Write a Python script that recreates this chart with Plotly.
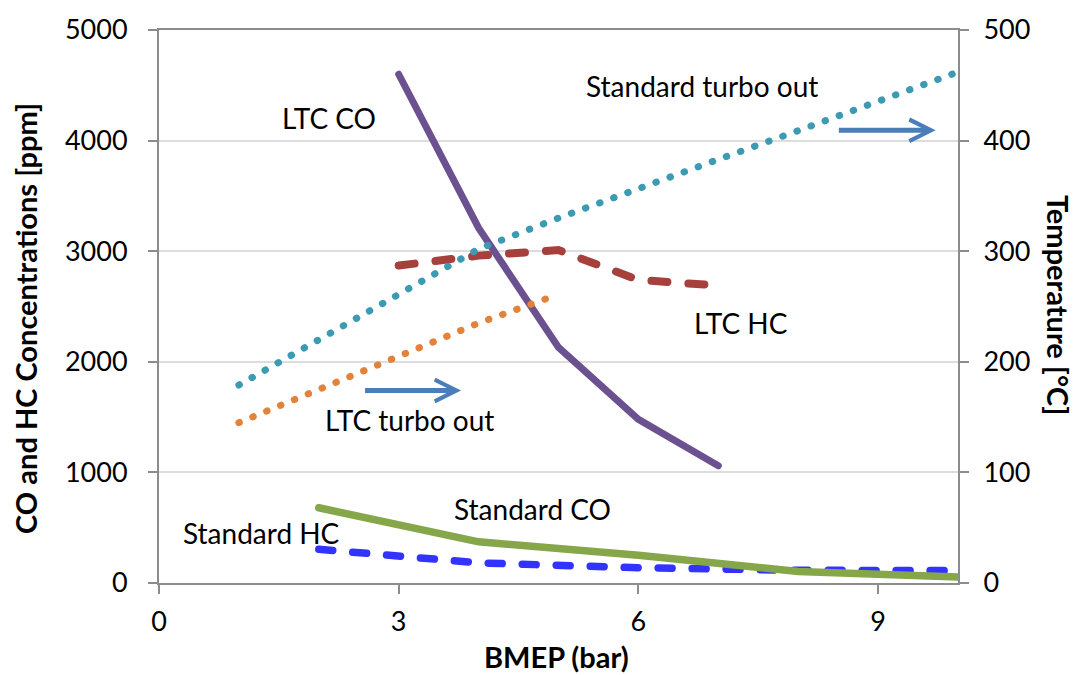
import plotly.graph_objects as go

# BMEP sweep points (bar)
ltc_x = [3, 4, 5, 6, 7]
ltc_co = [4600, 3210, 2130, 1480, 1060]          # ppm
ltc_hc = [2870, 2960, 3010, 2740, 2690]          # ppm

std_x = [2, 4, 6, 8, 10]
std_co = [680, 372, 250, 105, 55]                # ppm
std_hc = [305, 182, 138, 115, 112]               # ppm

std_turbo_x = [1, 2, 3, 4, 5, 6, 7, 8, 9, 10]
std_turbo_t = [179, 220, 262, 302, 330, 357, 383, 409, 435, 462]   # degC

ltc_turbo_x = [1, 2, 3, 4, 5]
ltc_turbo_t = [145, 175, 205, 235, 261]          # degC

x_ticks = [0, 3, 6, 9]

FONT = "Lato"
GRID = "#DDDDDD"
AXIS = "#8C8C8C"

fig = go.Figure()

fig.add_trace(go.Scatter(x=std_turbo_x, y=std_turbo_t, yaxis="y2", mode="lines",
                         line=dict(color="#3C9AB2", width=7, dash="0.5px,14.5px")))
fig.add_trace(go.Scatter(x=ltc_turbo_x, y=ltc_turbo_t, yaxis="y2", mode="lines",
                         line=dict(color="#E3823B", width=7, dash="0.5px,14.5px")))
fig.add_trace(go.Scatter(x=ltc_x, y=ltc_hc, mode="lines",
                         line=dict(color="#A5403C", width=8, dash="16px,21px")))
fig.add_trace(go.Scatter(x=ltc_x, y=ltc_co, mode="lines",
                         line=dict(color="#6B5190", width=7)))
fig.add_trace(go.Scatter(x=std_x, y=std_hc, mode="lines",
                         line=dict(color="#3333FF", width=7.5, dash="14px,20px")))
fig.add_trace(go.Scatter(x=std_x, y=std_co, mode="lines",
                         line=dict(color="#86A64A", width=7.5)))

labels = [
    ("LTC CO", 2.13, 4201),
    ("Standard turbo out", 6.80, 4497),
    ("LTC HC", 7.28, 2352),
    ("LTC turbo out", 3.13, 1472),
    ("Standard CO", 4.67, 673),
    ("Standard HC", 1.28, 449),
]
annotations = [dict(text=t, x=x, y=y, xref="x", yref="y", showarrow=False,
                    font=dict(family=FONT, size=28, color="black"))
               for t, x, y in labels]

# direction arrows pointing to the temperature axis
for x0, x1, y in [(2.56, 3.78, 1741), (8.49, 9.72, 4093)]:
    annotations.append(dict(x=x1, y=y, ax=x0, ay=y, xref="x", yref="y",
                            axref="x", ayref="y", text="", showarrow=True,
                            arrowhead=5, arrowsize=0.85, arrowwidth=5,
                            arrowcolor="#4A7EBB"))

annotations += [
    dict(text="<b>CO and HC Concentrations [ppm]</b>", x=-0.168, y=0.479,
         xref="paper", yref="paper", xanchor="center", yanchor="middle",
         textangle=-90, showarrow=False,
         font=dict(family=FONT, size=29, color="black")),
    dict(text="<b>Temperature [°C]</b>", x=1.125, y=0.503,
         xref="paper", yref="paper", xanchor="center", yanchor="middle",
         textangle=90, showarrow=False,
         font=dict(family=FONT, size=29, color="black")),
    dict(text="<b>BMEP (bar)</b>", x=0.4975, y=-0.133,
         xref="paper", yref="paper", xanchor="center", yanchor="middle",
         showarrow=False, font=dict(family=FONT, size=29, color="black")),
]

fig.update_layout(
    width=1075, height=675,
    margin=dict(l=159, r=117, t=26, b=92),
    paper_bgcolor="white", plot_bgcolor="white",
    showlegend=False,
    font=dict(family=FONT, size=27, color="black"),
    annotations=annotations,
    xaxis=dict(range=[0, 10], tickvals=x_ticks, ticks="outside", ticklen=9,
               tickcolor=AXIS, tickwidth=2, showline=True, linecolor=AXIS,
               linewidth=2, mirror=True, showgrid=False, zeroline=False,
               ticklabelstandoff=5),
    yaxis=dict(range=[0, 5000], dtick=1000, ticks="outside", ticklen=9,
               tickcolor=AXIS, tickwidth=2, showline=True, linecolor=AXIS,
               linewidth=2, showgrid=True, gridcolor=GRID, gridwidth=1.5,
               zeroline=False, ticklabelstandoff=15),
    yaxis2=dict(range=[0, 500], dtick=100, overlaying="y", side="right",
                ticks="outside", ticklen=9, tickcolor=AXIS, tickwidth=2,
                showline=True, linecolor=AXIS, linewidth=2, showgrid=False,
                zeroline=False, ticklabelstandoff=9),
)

# round line caps so the dotted series render as round dots
round_caps = (
    "var s = document.createElement('style');"
    "s.textContent = '.scatterlayer path.js-line{stroke-linecap:round !important;}';"
    "document.head.appendChild(s);"
)

fig.write_html("out.html", post_script=round_caps)
